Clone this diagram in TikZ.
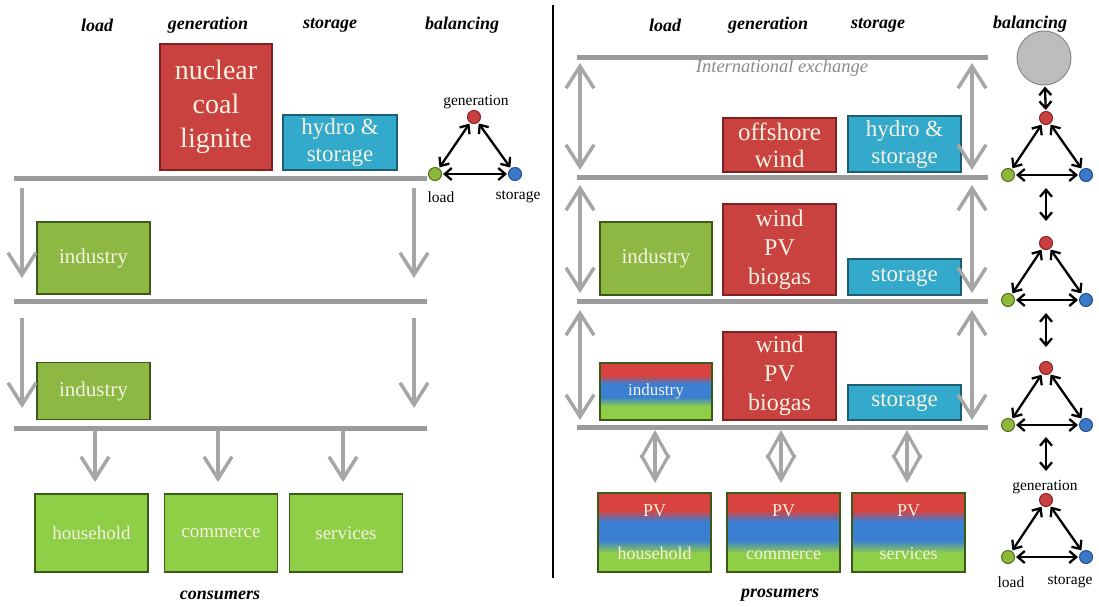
\documentclass[tikz,border=0pt]{standalone}
\usepackage{fontspec}
\setmainfont{Liberation Serif}
\usetikzlibrary{arrows.meta}
\definecolor{genred}{HTML}{C9423F}
\definecolor{genredd}{HTML}{7C2222}
\definecolor{stocyan}{HTML}{33AACB}
\definecolor{stocyand}{HTML}{1E5E72}
\definecolor{ldgreen}{HTML}{8DB843}
\definecolor{ldgreenb}{HTML}{8FCF48}
\definecolor{ldgreend}{HTML}{3C5A17}
\definecolor{boxtxt}{HTML}{F6F2E2}
\definecolor{bargrey}{HTML}{9B9B9B}
\definecolor{arrgrey}{HTML}{A6A6A6}
\definecolor{gblue}{HTML}{3B7FD2}
\definecolor{pred}{HTML}{D8433F}
\definecolor{nred}{HTML}{C8403F}
\definecolor{nredd}{HTML}{8B2020}
\definecolor{ngreen}{HTML}{8DB83A}
\definecolor{ngreend}{HTML}{4F6B1E}
\definecolor{nblue}{HTML}{3C78C8}
\definecolor{nblued}{HTML}{1F4C8A}
\definecolor{circgrey}{HTML}{BDBDBD}
\definecolor{circd}{HTML}{8A8A8A}
\definecolor{ietxt}{HTML}{8A8A8A}
\pgfdeclareverticalshading{rbgshade}{100bp}{color(0bp)=(ldgreenb); color(37bp)=(ldgreenb); color(45bp)=(gblue); color(57bp)=(gblue); color(64bp)=(pred); color(100bp)=(pred)}
\tikzset{
  hdr/.style={font=\fontsize{18}{20}\selectfont\bfseries\itshape},
  bx/.style={draw, line width=1.6pt, inner sep=0pt, align=center, text=boxtxt},
  genbox/.style={bx, fill=genred, draw=genredd},
  stobox/.style={bx, fill=stocyan, draw=stocyand},
  ldbox/.style={bx, fill=ldgreen, draw=ldgreend, font=\fontsize{21}{24}\selectfont},
  conbox/.style={bx, fill=ldgreenb, draw=ldgreend, font=\fontsize{19}{24}\selectfont},
  probox/.style={bx, shading=rbgshade, draw=ldgreend},
  busbar/.style={draw=bargrey, line width=5pt},
  flowd/.style={draw=arrgrey, line width=3.5pt, -{Straight Barb[length=22pt,width=28pt]}},
  flowdd/.style={draw=arrgrey, line width=3.5pt, {Straight Barb[length=22pt,width=28pt]}-{Straight Barb[length=22pt,width=28pt]}},
  diamarr/.style={draw=arrgrey, line width=3.2pt, {Straight Barb[length=25pt,width=28pt]}-{Straight Barb[length=25pt,width=28pt]}},
  dotn/.style={circle, minimum size=13pt, inner sep=0pt, line width=1pt},
  rdotn/.style={dotn, fill=nred, draw=nredd},
  gdotn/.style={dotn, fill=ngreen, draw=ngreend},
  bdotn/.style={dotn, fill=nblue, draw=nblued},
  balarr/.style={draw=black, line width=2.3pt, {Straight Barb[length=7pt,width=12pt]}-{Straight Barb[length=7pt,width=12pt]}, shorten >=1pt, shorten <=1pt},
  lbl/.style={font=\fontsize{15.5}{17}\selectfont},
}
\begin{document}
\begin{tikzpicture}[x=1pt,y=-1pt]
\useasboundingbox (0,0) rectangle (1099,606);
% separator
\coordinate (sepa) at (553,5);
\coordinate (sepb) at (553,578);
\draw[line width=1.2pt] (sepa) -- (sepb);
% headers
\node[hdr] (hl1) at (97,25) {load};
\node[hdr] (hg1) at (208,25) {generation};
\node[hdr] (hs1) at (330,25) {storage};
\node[hdr] (hb1) at (462,25) {balancing};
\node[hdr] (hl2) at (665,25) {load};
\node[hdr] (hg2) at (768,25) {generation};
\node[hdr] (hs2) at (878,25) {storage};
\node[hdr] (hb2) at (1030,24) {balancing};
\node[hdr] (cons) at (220,595) {consumers};
\node[hdr] (pros) at (780,595) {prosumers};
% bus bars left
\foreach \i/\y in {1/178,2/301,3/428}{
  \coordinate (la\i) at (14,\y);
  \coordinate (lb\i) at (427,\y);
  \draw[busbar] (la\i) -- (lb\i);
}
% bus bars right
\foreach \i/\y in {0/57,1/177,2/301,3/427}{
  \coordinate (ra\i) at (577,\y);
  \coordinate (rb\i) at (988,\y);
  \draw[busbar] (ra\i) -- (rb\i);
}
\node[font=\fontsize{18.5}{20}\selectfont\itshape, text=ietxt] (ie) at (782,68) {International exchange};
% left boxes
\node[genbox, minimum width=112pt, minimum height=126pt, font=\fontsize{28}{34}\selectfont] (nuc) at (216,107) {nuclear\\coal\\lignite};
\node[stobox, minimum width=114pt, minimum height=55pt, font=\fontsize{23}{27}\selectfont] (hyd1) at (340,142.5) {hydro \&\\storage};
\node[ldbox, minimum width=113pt, minimum height=72pt] (ind1) at (93.5,258) {industry};
\node[ldbox, minimum width=113pt, minimum height=57pt] (ind2) at (93.5,391) {industry};
\node[conbox, minimum width=113pt, minimum height=78pt] (hh) at (91.5,533) {household};
\node[conbox, minimum width=113pt, minimum height=78pt] (com) at (221,533) {commerce};
\node[conbox, minimum width=113pt, minimum height=78pt] (ser) at (346,533) {services};
% left arrows
\foreach \i/\x in {1/22,2/414}{
  \coordinate (lf\i a) at (\x,188);
  \coordinate (lf\i b) at (\x,278);
  \coordinate (lg\i a) at (\x,318);
  \coordinate (lg\i b) at (\x,408);
  \draw[flowd] (lf\i a) -- (lf\i b);
  \draw[flowd] (lg\i a) -- (lg\i b);
}
\foreach \i/\x in {1/95,2/218,3/343}{
  \coordinate (cf\i a) at (\x,430);
  \coordinate (cf\i b) at (\x,482);
  \draw[flowd] (cf\i a) -- (cf\i b);
}
% left triangle
\node[rdotn] (t0g) at (474,117) {};
\node[gdotn] (t0l) at (435,174) {};
\node[bdotn] (t0s) at (515,174) {};
\draw[balarr] (t0g) -- (t0l);
\draw[balarr] (t0g) -- (t0s);
\draw[balarr] (t0l) -- (t0s);
\node[lbl] (t0gt) at (476,102) {generation};
\node[lbl] (t0lt) at (441,197) {load};
\node[lbl] (t0st) at (518,197) {storage};
% right boxes
\node[genbox, minimum width=113pt, minimum height=54pt, font=\fontsize{25}{27}\selectfont] (off) at (779.5,145) {offshore\\wind};
\node[stobox, minimum width=113pt, minimum height=56pt, font=\fontsize{23}{27}\selectfont] (hyd2) at (904.5,144) {hydro \&\\storage};
\node[ldbox, minimum width=112pt, minimum height=73pt] (ind3) at (656,258.5) {industry};
\node[genbox, minimum width=113pt, minimum height=91pt, font=\fontsize{24}{29}\selectfont] (wpb1) at (779.5,249.5) {wind\\PV\\biogas};
\node[stobox, minimum width=113pt, minimum height=36pt, font=\fontsize{23}{27}\selectfont] (sto1) at (904.5,277) {storage};
\node[probox, minimum width=112pt, minimum height=57pt, font=\fontsize{17}{20}\selectfont] (ind4) at (656,391.5) {industry};
\node[genbox, minimum width=113pt, minimum height=88pt, font=\fontsize{24}{29}\selectfont] (wpb2) at (779.5,376) {wind\\PV\\biogas};
\node[stobox, minimum width=113pt, minimum height=35pt, font=\fontsize{23}{27}\selectfont] (sto2) at (904.5,402.5) {storage};
\node[probox, minimum width=113pt, minimum height=79pt, font=\fontsize{18}{43}\selectfont] (phh) at (654.5,532.5) {PV\\household};
\node[probox, minimum width=113pt, minimum height=79pt, font=\fontsize{18}{43}\selectfont] (pcom) at (783.5,532.5) {PV\\commerce};
\node[probox, minimum width=113pt, minimum height=79pt, font=\fontsize{18}{43}\selectfont] (pser) at (908.5,532.5) {PV\\services};
% right grey double arrows
\foreach \i/\x in {1/580,2/972}{
  \coordinate (rf\i a) at (\x,63);
  \coordinate (rf\i b) at (\x,170);
  \coordinate (rg\i a) at (\x,185);
  \coordinate (rg\i b) at (\x,293);
  \coordinate (rh\i a) at (\x,310);
  \coordinate (rh\i b) at (\x,420);
  \draw[flowdd] (rf\i a) -- (rf\i b);
  \draw[flowdd] (rg\i a) -- (rg\i b);
  \draw[flowdd] (rh\i a) -- (rh\i b);
}
% diamond arrows
\foreach \i/\x in {1/655,2/781,3/907}{
  \coordinate (dm\i a) at (\x,430);
  \coordinate (dm\i b) at (\x,483);
  \draw[diamarr] (dm\i a) -- (dm\i b);
}
% balancing column
\node[circle, fill=circgrey, draw=circd, line width=1pt, minimum size=54pt, inner sep=0pt] (circ) at (1044,58) {};
\foreach \i/\y in {1/118,2/243,3/368,4/500}{
  \pgfmathsetmacro{\yb}{\y+57}
  \node[rdotn] (t\i g) at (1046,\y) {};
  \node[gdotn] (t\i l) at (1008,\yb) {};
  \node[bdotn] (t\i s) at (1086,\yb) {};
  \draw[balarr] (t\i g) -- (t\i l);
  \draw[balarr] (t\i g) -- (t\i s);
  \draw[balarr] (t\i l) -- (t\i s);
}
\draw[balarr] (circ) -- (t1g);
\foreach \i/\ya/\yb in {1/187/222,2/312/348,3/436/472}{
  \coordinate (bv\i a) at (1046,\ya);
  \coordinate (bv\i b) at (1046,\yb);
  \draw[balarr] (bv\i a) -- (bv\i b);
}
\node[lbl] (t4gt) at (1045,487) {generation};
\node[lbl] (t4lt) at (1011,582) {load};
\node[lbl] (t4st) at (1070,582) {storage};
\end{tikzpicture}
\end{document}
